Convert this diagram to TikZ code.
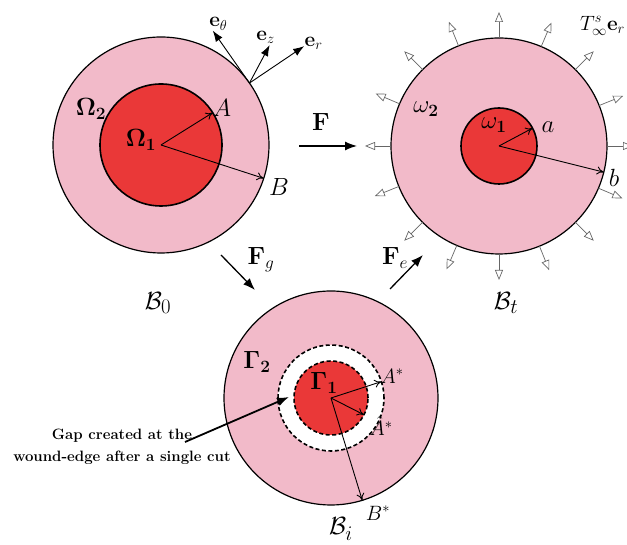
\documentclass[tikz,border=0pt]{standalone}
\usepackage{amsmath,amssymb}
\usetikzlibrary{arrows.meta,positioning}
\definecolor{tissue}{RGB}{242,186,201}
\definecolor{wound}{RGB}{234,56,56}

\begin{document}
\begin{tikzpicture}[x=1pt, y=1pt,
        disk/.style = {circle, draw, outer sep=0pt, inner sep=0pt},
        rad/.style = {-{To[length=7pt,width=8pt]}, line width=0.9pt},
        map/.style = {-{Latex[length=12pt,width=9pt]}, line width=1.3pt},
        base/.style = {-{Latex[length=11pt,width=8pt]}, line width=0.9pt},
        load/.style = {-{Triangle[open,length=10pt,width=8pt]}, black!60, line width=0.7pt},
        lbl/.style = {font=\fontsize{23}{25}\selectfont},
        small/.style = {font=\huge},
        body/.style = {font=\Huge}]
        \useasboundingbox (0,0) rectangle (627,545);
        \clip (0,0) rectangle (627,545);

        % reference configuration
        \node[disk, minimum size=216, fill=tissue, line width=1.2pt] (refout) at (161,400) {};
        \node[disk, minimum size=122, fill=wound, line width=1.6pt] (refin) at (161,400) {};
        \draw[rad] (refin.center) -- (refin.32);
        \draw[rad] (refin.center) -- (refout.-18);
        \node[lbl] (om2) at (91,436) {$\mathbf{\Omega_2}$};
        \node[lbl] (om1) at (141,405) {$\mathbf{\Omega_1}$};
        \node[lbl] (A) at (222,437) {$A$};
        \node[lbl] (B) at (279,358) {$B$};
        \node[body] (B0) at (158,242) {$\mathcal{B}_0$};

        % local basis
        \coordinate (P) at (refout.35);
        \coordinate (eth) at ([shift={(125:64)}]P);
        \coordinate (ez) at ([shift={(62:43)}]P);
        \coordinate (er) at ([shift={(34:66)}]P);
        \draw[base] (P) -- (eth);
        \draw[base] (P) -- (ez);
        \draw[base] (P) -- (er);
        \node[small, above right=-3pt and -7pt of eth] (ethlab) {$\mathbf{e}_\theta$};
        \node[small, above=-2pt of ez, xshift=-4pt] (ezlab) {$\mathbf{e}_z$};
        \node[small, above right=-7pt and -3pt of er] (erlab) {$\mathbf{e}_r$};

        % current configuration
        \node[disk, minimum size=216, fill=tissue, line width=1.2pt] (curout) at (499,399) {};
        \node[disk, minimum size=76, fill=wound, line width=1.6pt] (curin) at (499,399) {};
        \node[circle, minimum size=268, outer sep=0pt, inner sep=0pt] (curfar) at (499,399) {};
        \foreach \a in {0,22.5,...,337.5}
            \draw[load] (curout.\a) -- (curfar.\a);
        \draw[rad] (curin.center) -- (curin.28);
        \draw[rad] (curin.center) -- (curout.-14.5);
        \node[lbl] (w2) at (426,436) {$\omega_{\mathbf{2}}$};
        \node[lbl] (w1) at (494,420) {$\omega_{\mathbf{1}}$};
        \node[lbl] (a) at (548,418) {$a$};
        \node[lbl] (b) at (614,367) {$b$};
        \node[font=\fontsize{21}{23}\selectfont, anchor=west, inner sep=0pt] (trac) at (580,519) {$T^s_\infty\mathbf{e}_r$};
        \node[body] (Bt) at (506,242) {$\mathcal{B}_t$};

        % intermediate configuration
        \node[disk, minimum size=214, fill=tissue, line width=1.2pt] (intout) at (331,147) {};
        \node[disk, minimum size=106, fill=white, dashed, dash pattern=on 4pt off 2.5pt, line width=1.6pt] (intgap) at (331,147) {};
        \node[disk, minimum size=74, fill=wound, dashed, dash pattern=on 4pt off 2.5pt, line width=1.6pt] (intin) at (331,147) {};
        \draw[rad] (intin.center) -- (intgap.18);
        \draw[rad] (intin.center) -- (intin.-27);
        \draw[rad] (intin.center) -- (intout.-73);
        \node[lbl] (G2) at (257,183) {$\mathbf{\Gamma_2}$};
        \node[lbl] (G1) at (324,162) {$\mathbf{\Gamma_1}$};
        \node[small] (As) at (392,169) {$A^*$};
        \node[small] (Ah) at (381,119) {$\hat{A}^*$};
        \node[small] (Bs) at (378,32) {$B^*$};
        \node[body] (Bi) at (341,16) {$\mathcal{B}_i$};

        % the cut
        \node[align=center, font=\fontsize{15}{22}\selectfont\bfseries] (gap) at (122,98)
            {Gap created at the\\wound-edge after a single cut};
        \coordinate (cut) at (185,103);
        \coordinate (gaptip) at (289,148);
        \draw[-{Latex[length=12pt,width=9pt]}, line width=1.8pt] (cut) -- (gaptip);

        % maps
        \coordinate (Fa) at (299,399);
        \coordinate (Fb) at (357,399);
        \draw[map] (Fa) -- (Fb);
        \node[lbl] (F) at (321,423) {$\mathbf{F}$};
        \coordinate (Fga) at (221,290);
        \coordinate (Fgb) at (255,255);
        \draw[map] (Fga) -- (Fgb);
        \node[lbl] (Fg) at (261,285) {$\mathbf{F}_g$};
        \coordinate (Fea) at (390,256);
        \coordinate (Feb) at (423,290);
        \draw[map] (Fea) -- (Feb);
        \node[lbl] (Fe) at (395,287) {$\mathbf{F}_e$};
    \end{tikzpicture}
\end{document}
